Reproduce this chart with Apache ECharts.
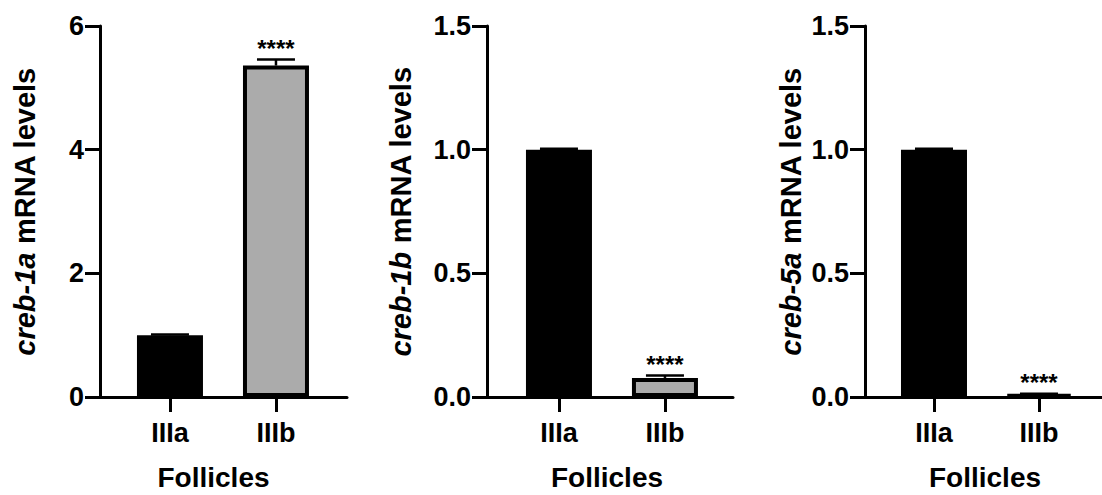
<!DOCTYPE html>
<html>
<head>
<meta charset="utf-8">
<script src="https://cdn.jsdelivr.net/npm/echarts@6/dist/echarts.min.js"></script>
<style>
  html, body { margin: 0; padding: 0; background: #ffffff; }
  #chart { width: 1102px; height: 495px; }
</style>
</head>
<body>
<div id="chart"></div>
<script>
// ---- data ----
const categories = ['IIIa', 'IIIb'];
const geneNames = ['creb-1a', 'creb-1b', 'creb-5a'];
const creb1aMean = [1.00, 5.36];
const creb1aSem = [0.01, 0.10];
const creb1bMean = [1.00, 0.077];
const creb1bSem = [0.004, 0.010];
const creb5aMean = [1.00, 0.010];
const creb5aSem = [0.004, 0.003];
const significance = ['', '****'];
const yMax = [6, 1.5, 1.5];
const yStep = [2, 0.5, 0.5];
const xAxisTitle = 'Follicles';

// ---- styles / layout ----
const FONT = '"Liberation Sans", Arial, Helvetica, sans-serif';
const barColors = ['#000000', '#ababab'];
const panels = [
  { mean: creb1aMean, sem: creb1aSem, left: 100, width: 247, xmin: -0.660, xmax: 1.670, nameGap: 61, digits: 0, namePad: [0, 20, 0, 0] },
  { mean: creb1bMean, sem: creb1bSem, left: 487, width: 246, xmin: -0.679, xmax: 1.642, nameGap: 72, digits: 1, namePad: [0, 6, 0, 0] },
  { mean: creb5aMean, sem: creb5aSem, left: 865, width: 237, xmin: -0.657, xmax: 1.600, nameGap: 60, digits: 1, namePad: [0, 0, 0, 3] }
];
const TOP = 26, BOTTOM = 98;
const axisLineX = { show: true, onZero: false, lineStyle: { color: '#000', width: 3 } };
const axisLineY = { show: true, onZero: false, lineStyle: { color: '#000', width: 3 } };
const axisTick = { show: true, inside: false, length: 15, lineStyle: { color: '#000', width: 3 } };

const grid = [], xAxis = [], yAxis = [], series = [];
panels.forEach((p, i) => {
  grid.push({ left: p.left, width: p.width, top: TOP, bottom: BOTTOM, containLabel: false, outerBoundsMode: 'none' });
  xAxis.push({
    type: 'value', gridIndex: i, min: p.xmin, max: p.xmax,
    splitLine: { show: false },
    axisLine: axisLineX,
    axisTick: Object.assign({}, axisTick, { customValues: [0, 1] }),
    axisLabel: {
      customValues: [0, 1], margin: 22,
      formatter: v => categories[Math.round(v)],
      fontFamily: FONT, fontSize: 27, fontWeight: 'bold', color: '#000'
    },
    name: xAxisTitle, nameLocation: 'middle', nameGap: 66,
    nameTextStyle: { fontFamily: FONT, fontSize: 28, fontWeight: 'bold', color: '#000', padding: p.namePad }
  });
  yAxis.push({
    type: 'value', gridIndex: i, min: 0, max: yMax[i], interval: yStep[i],
    splitLine: { show: false },
    axisLine: axisLineY,
    axisTick: axisTick,
    axisLabel: {
      margin: 16, formatter: v => v.toFixed(p.digits),
      fontFamily: FONT, fontSize: 27, fontWeight: 'bold', color: '#000'
    },
    name: '{it|' + geneNames[i] + '} mRNA levels',
    nameLocation: 'middle', nameGap: p.nameGap,
    nameTextStyle: {
      fontFamily: FONT, fontSize: 29, fontWeight: 'bold', color: '#000',
      rich: { it: { fontFamily: FONT, fontSize: 29, fontWeight: 'bold', fontStyle: 'italic', color: '#000' } }
    }
  });
  series.push({
    type: 'bar', xAxisIndex: i, yAxisIndex: i, barWidth: 66,
    data: categories.map((c, k) => ({
      value: [k, p.mean[k]],
      itemStyle: { color: barColors[k], borderColor: '#000', borderWidth: 4 }
    })),
    silent: true, animation: false, z: 2
  });
  series.push({
    type: 'custom', xAxisIndex: i, yAxisIndex: i, z: 3, silent: true, animation: false,
    data: categories.map((c, k) => [k, p.mean[k], p.sem[k]]),
    renderItem: function (params, api) {
      const x = api.value(0), m = api.value(1), e = api.value(2);
      const base = api.coord([x, m]);
      const top = api.coord([x, m + e]);
      const children = [
        { type: 'line', shape: { x1: base[0], y1: base[1], x2: top[0], y2: top[1] }, style: { stroke: '#000', lineWidth: 2.5 } },
        { type: 'line', shape: { x1: top[0] - 19, y1: top[1], x2: top[0] + 19, y2: top[1] }, style: { stroke: '#000', lineWidth: 2.5 } }
      ];
      const sig = significance[Math.round(x)];
      if (sig) {
        children.push({
          type: 'text',
          style: { text: sig, x: top[0], y: top[1] - 11, align: 'center', verticalAlign: 'middle',
                   fontFamily: FONT, fontSize: 24, fontWeight: 'bold', fill: '#000' }
        });
      }
      return { type: 'group', children: children };
    }
  });
});

const chart = echarts.init(document.getElementById('chart'), null, { renderer: 'svg' });
chart.setOption({
  animation: false,
  backgroundColor: '#ffffff',
  grid: grid, xAxis: xAxis, yAxis: yAxis, series: series
});
</script>
</body>
</html>
